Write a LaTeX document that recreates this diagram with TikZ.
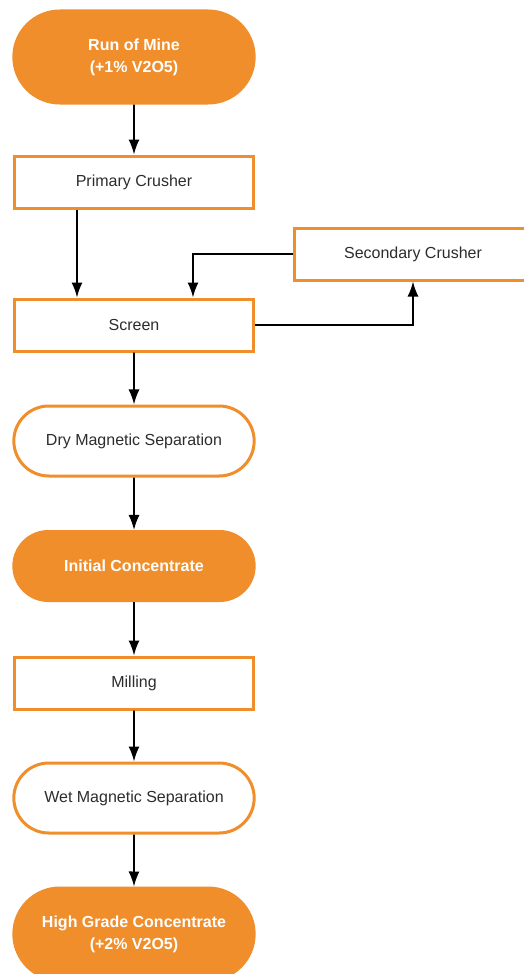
\documentclass[tikz,border=0pt]{standalone}
\usepackage{fontspec}
\setmainfont{Liberation Sans}
\usepackage{tikz}
\usetikzlibrary{shapes,arrows.meta,positioning}
\definecolor{ore}{RGB}{239,142,43}
\definecolor{ink}{RGB}{45,45,45}

\begin{document}
\begin{tikzpicture}[x=1pt, y=-1pt,
      font=\fontsize{16}{22}\selectfont,
      every node/.append style={align=center, line width=3pt, draw=ore, text=ink},
      term/.style={rounded rectangle, fill=ore, text=white, minimum width=247pt,
        font=\fontsize{16}{22}\selectfont\bfseries},
      sep/.style={rounded rectangle, fill=white, minimum width=247pt, minimum height=70pt},
      proc/.style={rectangle, fill=white, minimum width=239pt, minimum height=52pt},
      flow/.style={-{Latex[length=15pt,width=11pt]}, line width=1.6pt, black}]
    \useasboundingbox (0,0) rectangle (523,974);
    \node (ROM) [term, minimum height=92pt] at (134,57) {Run of Mine\\(+1\% V2O5)};
    \node (PRIM) [proc] at (134,182) {Primary Crusher};
    \node (SCREEN) [proc] at (134,325) {Screen};
    \node (SEC) [proc, minimum width=237pt] at (413,254) {Secondary Crusher};
    \node (DRY) [sep] at (134,441) {Dry Magnetic Separation};
    \node (INIT) [term, minimum height=69pt] at (134,566) {Initial Concentrate};
    \node (MILL) [proc] at (134,683) {Milling};
    \node (WET) [sep] at (134,798) {Wet Magnetic Separation};
    \node (HG) [term, minimum height=92pt] at (134,934) {High Grade Concentrate\\(+2\% V2O5)};

    \draw[flow] (ROM) -- (PRIM);
    \draw[flow] ([xshift=-57pt]PRIM.south) -- ([xshift=-57pt]SCREEN.north);
    \draw[flow] (SEC.west) -| ([xshift=59pt]SCREEN.north);
    \draw[flow] (SCREEN.east) -| (SEC.south);
    \draw[flow] (SCREEN) -- (DRY);
    \draw[flow] (DRY) -- (INIT);
    \draw[flow] (INIT) -- (MILL);
    \draw[flow] (MILL) -- (WET);
    \draw[flow] (WET) -- (HG);
  \end{tikzpicture}
\end{document}
